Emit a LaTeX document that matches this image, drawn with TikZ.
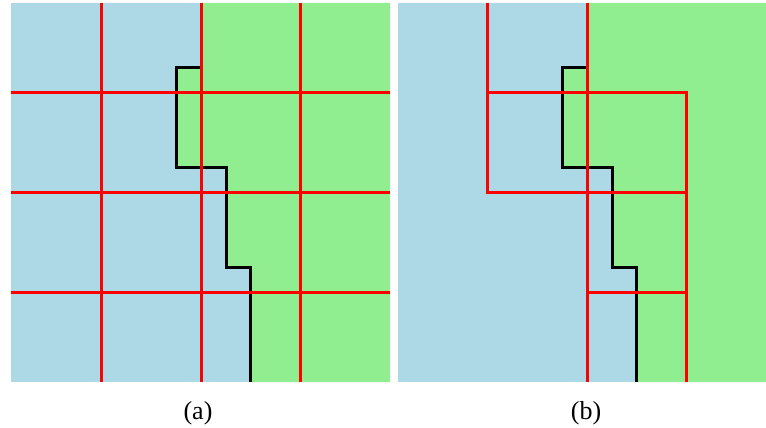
\documentclass[tikz,border=0pt]{standalone}
\usepackage{fontspec}
\setmainfont{Liberation Serif}
\definecolor{skyfill}{RGB}{173,216,230}
\definecolor{grassfill}{RGB}{144,238,144}
\begin{document}
\begin{tikzpicture}[x=1pt,y=-1pt,
  gridline/.style={draw=red,line width=3pt,line join=miter},
  boundary/.style={draw=black,line width=3pt,line join=miter},
  caption/.style={font=\fontsize{26}{30}\selectfont,inner sep=0pt}]
\useasboundingbox (0,0) rectangle (766,428);

% ---- panel (a): uniform grid ----
\fill[skyfill] (11,3) rectangle (390,382);
\fill[grassfill] (201,3) -- (390,3) -- (390,382) -- (250,382) -- (250,267)
  -- (226,267) -- (226,167) -- (176,167) -- (176,68) -- (201,68) -- cycle;
\draw[boundary] (201,68) -- (176,68) -- (176,167) -- (226,167) -- (226,267)
  -- (250,267) -- (250,382);
\foreach \x in {101,201,300} \draw[gridline] (\x,3) -- (\x,382);
\foreach \y in {93,192,292} \draw[gridline] (11,\y) -- (390,\y);
\node[caption] (capa) at (198,413) {(a)};

% ---- panel (b): adaptive refinement ----
\fill[skyfill] (398,3) rectangle (766,382);
\fill[grassfill] (587,3) -- (766,3) -- (766,382) -- (636,382) -- (636,267)
  -- (612,267) -- (612,167) -- (562,167) -- (562,68) -- (587,68) -- cycle;
\draw[boundary] (587,68) -- (562,68) -- (562,167) -- (612,167) -- (612,267)
  -- (636,267) -- (636,382);
\draw[gridline] (487,3) -- (487,192) -- (686,192);
\draw[gridline] (487,93) -- (686,93) -- (686,382);
\draw[gridline] (587,3) -- (587,382);
\draw[gridline] (587,292) -- (686,292);
\node[caption] (capb) at (586,413) {(b)};
\end{tikzpicture}
\end{document}
